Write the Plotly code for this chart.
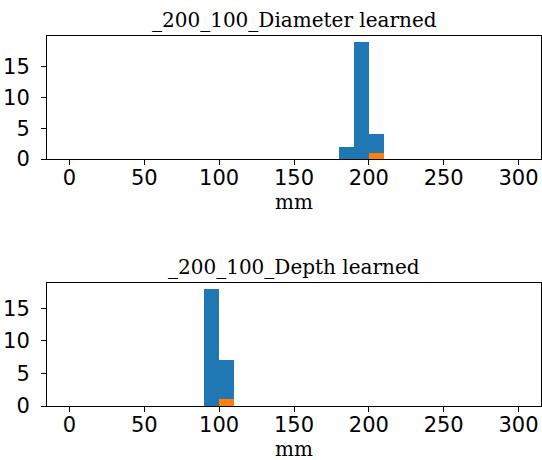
import plotly.graph_objects as go

# Histogram data (bin left edges, bin width 10 mm)
diam_bins = [180, 190, 200]
diam_all = [2, 19, 4]
diam_bins_sel = [200]
diam_sel = [1]

depth_bins = [90, 100]
depth_all = [18, 7]
depth_bins_sel = [100]
depth_sel = [1]

titles = ["_200_100_Diameter learned", "_200_100_Depth learned"]
xticks = [0, 50, 100, 150, 200, 250, 300]
yticks = [0, 5, 10, 15]

BLUE = "#1f77b4"
ORANGE = "#ff7f0e"

fig = go.Figure()

def add_hist(bins, vals, color, xa, ya):
    fig.add_trace(go.Bar(x=bins, y=vals, width=[10]*len(bins), offset=0,
                         marker=dict(color=color, line=dict(width=0)),
                         xaxis=xa, yaxis=ya, showlegend=False))

add_hist(diam_bins, diam_all, BLUE, "x", "y")
add_hist(diam_bins_sel, diam_sel, ORANGE, "x", "y")
add_hist(depth_bins, depth_all, BLUE, "x2", "y2")
add_hist(depth_bins_sel, depth_sel, ORANGE, "x2", "y2")

W, H = 542, 460
top_dom = [1 - 159 / H, 1 - 36 / H]
bot_dom = [1 - 406 / H, 1 - 283 / H]

axis_common = dict(showline=True, linecolor="black", linewidth=1, mirror=True,
                   ticks="outside", ticklen=5, tickcolor="black", showgrid=False,
                   zeroline=False, automargin=False,
                   tickfont=dict(family="DejaVu Sans", size=21, color="black"))

fig.update_layout(
    width=W, height=H, barmode="overlay",
    margin=dict(l=47, r=1, t=0, b=0, autoexpand=False),
    plot_bgcolor="white", paper_bgcolor="white",
    bargap=0,
    xaxis=dict(domain=[0, 1], anchor="y", range=[-15, 315], tickvals=xticks,
               ticklabelstandoff=-5, **axis_common),
    yaxis=dict(domain=top_dom, anchor="x", range=[0, max(diam_all) * 1.05], tickvals=yticks,
               ticklabelstandoff=7, **axis_common),
    xaxis2=dict(domain=[0, 1], anchor="y2", range=[-15, 315], tickvals=xticks,
                ticklabelstandoff=-5, **axis_common),
    yaxis2=dict(domain=bot_dom, anchor="x2", range=[0, max(depth_all) * 1.05], tickvals=yticks,
                ticklabelstandoff=7, **axis_common),
)

serif = dict(family="DejaVu Serif", size=20, color="black")
for title, dom in zip(titles, [top_dom, bot_dom]):
    fig.add_annotation(text=title, xref="paper", yref="paper", x=0.5, y=dom[1],
                       yshift=2, xanchor="center", yanchor="bottom", showarrow=False, font=serif)
    fig.add_annotation(text="mm", xref="paper", yref="paper", x=0.5, y=dom[0],
                       yshift=-29, xanchor="center", yanchor="top", showarrow=False, font=serif)

fig.write_html("out.html", config={"displayModeBar": False},
               post_script="document.body.style.margin='0';")
